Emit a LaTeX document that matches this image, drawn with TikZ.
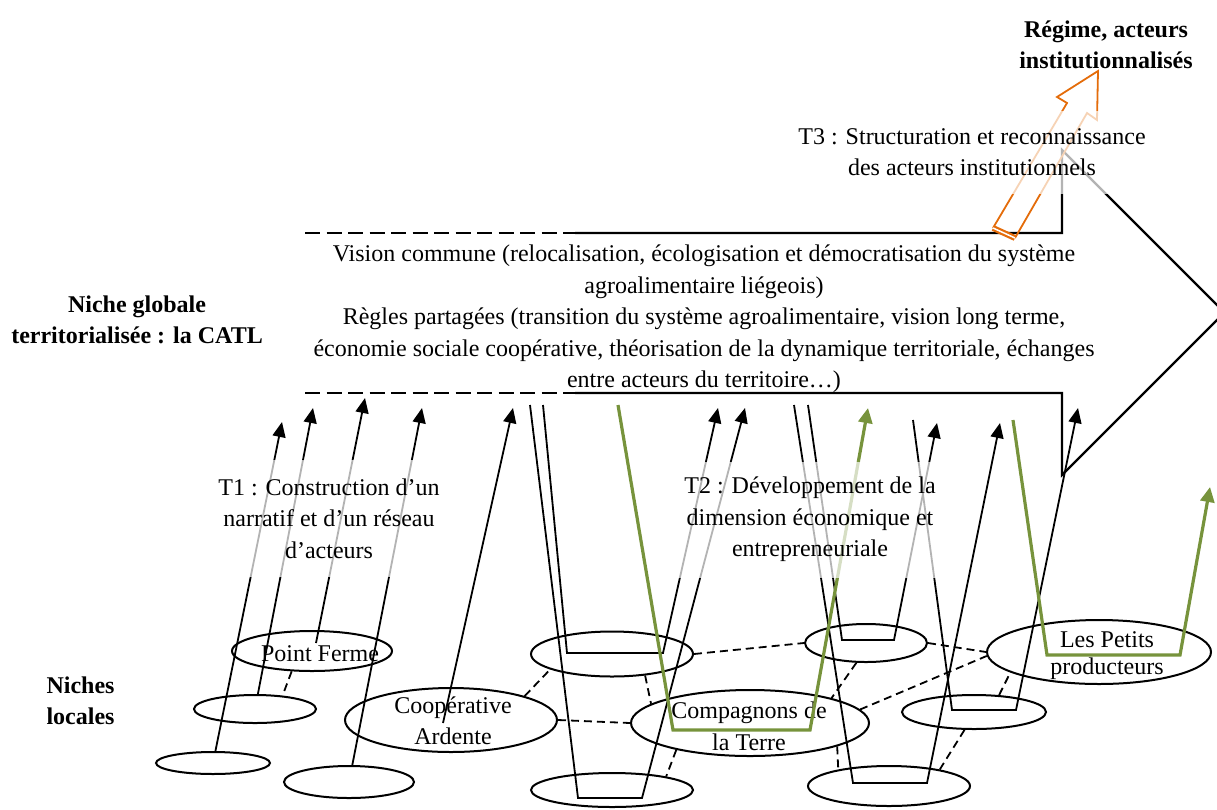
\documentclass[tikz,border=0pt]{standalone}
\usepackage{fontspec}
\setmainfont{Liberation Serif}
\usepackage{tikz}
\usetikzlibrary{arrows.meta,shapes.geometric}

\definecolor{catlvert}{RGB}{119,147,60}
\definecolor{catlorange}{RGB}{228,108,10}

\begin{document}
\begin{tikzpicture}[x=1pt, y=-1pt,
  font=\fontsize{24}{31.5}\selectfont,
  niche/.style={draw, ellipse, line width=2pt, inner sep=0pt},
  titre/.style={font=\fontsize{24}{31.5}\selectfont\bfseries, align=center},
  texte/.style={align=center, inner sep=0pt},
  voile/.style={align=center, inner sep=0pt, fill=white, fill opacity=0.7, text opacity=1},
  lien/.style={line width=1.8pt, dash pattern=on 8pt off 5pt},
  fleche/.style={line width=1.8pt, -{Triangle[length=15pt,width=13pt]}},
  verte/.style={line width=3.2pt, draw=catlvert, -{Triangle[length=15pt,width=14pt]}},
  cadre/.style={line width=2.2pt},
  tiret/.style={line width=2.2pt, dash pattern=on 15pt off 6.5pt}]

\useasboundingbox (0,0) rectangle (1217,809);

% Global niche outline
\coordinate (g1) at (305,233);
\coordinate (g2) at (575,233);
\coordinate (g3) at (1062,233);
\coordinate (g4) at (1062,150);
\coordinate (g5) at (1224.5,312.5);
\coordinate (g6) at (1062,475);
\coordinate (g7) at (1062,393);
\coordinate (g8) at (575,393);
\coordinate (g9) at (305,393);

\draw[tiret] (g1) -- (g2);
\draw[cadre] (g2) -- (g3) -- (g4) -- (g5) -- (g6) -- (g7) -- (g8);
\draw[tiret] (g9) -- (g8);

% Local niches
\node[niche, minimum width=114pt, minimum height=22pt] (l1)  at (213,763) {};
\node[niche, minimum width=122pt, minimum height=28pt] (l2)  at (255,709) {};
\node[niche, minimum width=160pt, minimum height=40pt] (l3)  at (312,651) {};
\node[niche, minimum width=130pt, minimum height=32pt] (l4)  at (349,782) {};
\node[niche, minimum width=212pt, minimum height=64pt] (l5)  at (451,720) {};
\node[niche, minimum width=162pt, minimum height=45pt] (l6)  at (612,654) {};
\node[niche, minimum width=162pt, minimum height=34pt] (l7)  at (612,790) {};
\node[niche, minimum width=238pt, minimum height=66pt] (l8)  at (750,723) {};
\node[niche, minimum width=122pt, minimum height=38pt] (l9)  at (866,643) {};
\node[niche, minimum width=162pt, minimum height=40pt] (l10) at (889,786) {};
\node[niche, minimum width=144pt, minimum height=34pt] (l11) at (974,712) {};
\node[niche, minimum width=224pt, minimum height=64pt] (l12) at (1099,652) {};

% Niche labels
\node[texte] (pf)   at (320,654)   {Point Ferme};
\node[texte] (coop) at (453,721)   {Coopérative\\Ardente};
\node[texte] (comp) at (749,726.5) {Compagnons de\\la Terre};
\node[texte] (lpp)  at (1107,655.5) {Les Petits\\[-4.5pt]producteurs};

% Links between local niches
\draw[lien] (l3.225) -- (l2.26);
\draw[lien] (l5.18) -- (l6.194);
\draw[lien] (l5.east) -- (l8.west);
\draw[lien] (l6.327) -- (l8.169);
\draw[lien] (l8.200) -- (l7.14);
\draw[lien] (l6.east) -- (l9.west);
\draw[lien] (l9.east) -- (l12.west);
\draw[lien] (l9.244) -- (l8.17);
\draw[lien] (l8.7) -- (l12.182);
\draw[lien] (l11.34) -- (l12.193);
\draw[lien] (l8.345) -- (l10.162);
\draw[lien] (l11.242) -- (l10.18);

% Upward arrows (T1)
\coordinate (s3) at (316,643);
\coordinate (s5) at (443,723);
\coordinate (v1) at (282,422);
\coordinate (v2) at (313,408);
\coordinate (v3) at (365,398);
\coordinate (v4) at (422,408);
\coordinate (v5) at (513,408);

\draw[fleche] (l1) -- (v1);
\draw[fleche] (l2) -- (v2);
\draw[fleche] (s3) -- (v3);
\draw[fleche] (l4) -- (v4);
\draw[fleche] (s5) -- (v5);

% Loops global -> local -> global
\coordinate (u6) at (543,405);  \coordinate (c6a) at (567,653);  \coordinate (c6b) at (663,653);  \coordinate (v6) at (718,408);
\coordinate (u7) at (530,405);  \coordinate (c7a) at (578,798);  \coordinate (c7b) at (642,798);  \coordinate (v7) at (745,408);
\coordinate (u9) at (808,405);  \coordinate (c9a) at (842,640);  \coordinate (c9b) at (894,640);  \coordinate (v9) at (937,423);
\coordinate (u10) at (794,405); \coordinate (c10a) at (853,783); \coordinate (c10b) at (927,783); \coordinate (v10) at (1000,423);
\coordinate (u11) at (913,420); \coordinate (c11a) at (952,710); \coordinate (c11b) at (1016,710); \coordinate (v11) at (1078,408);

\draw[fleche] (u6) -- (c6a) -- (c6b) -- (v6);
\draw[fleche] (u7) -- (c7a) -- (c7b) -- (v7);
\draw[fleche] (u9) -- (c9a) -- (c9b) -- (v9);
\draw[fleche] (u10) -- (c10a) -- (c10b) -- (v10);
\draw[fleche] (u11) -- (c11a) -- (c11b) -- (v11);

% Green loops (T2)
\coordinate (u8) at (618,405);   \coordinate (c8a) at (673,730);   \coordinate (c8b) at (810,730);   \coordinate (v8) at (868,408);
\coordinate (u12) at (1013,420); \coordinate (c12a) at (1047,655); \coordinate (c12b) at (1180,655); \coordinate (v12) at (1210,487);

\draw[verte] (u8) -- (c8a) -- (c8b) -- (v8);
\draw[verte] (u12) -- (c12a) -- (c12b) -- (v12);

% Orange block arrow (T3)
\coordinate (o1) at (993,228);
\coordinate (o2) at (1067,103);
\coordinate (o3) at (1057,97);
\coordinate (o4) at (1098,71);
\coordinate (o5) at (1097,120);
\coordinate (o6) at (1087,113);
\coordinate (o7) at (1015,238);

\draw[catlorange, line width=1.8pt, line join=miter] (o7) -- (o6) -- (o5) -- (o4) -- (o3) -- (o2) -- (o1);
\draw[catlorange, line width=2.2pt, double=white, double distance=1.5pt] (o1) -- (o7);

% Transition labels
\node[voile, minimum width=234pt, minimum height=117pt] (t1) at (329,518.5)
  {T1 : Construction d’un\\narratif et d’un réseau\\d’acteurs};
\node[voile, minimum width=280pt, minimum height=116pt] (t2) at (810,519.5)
  {T2 : Développement de la\\dimension économique et\\entrepreneuriale};
\node[voile, minimum width=355pt, minimum height=83pt] (t3) at (972,152)
  {T3 : Structuration et reconnaissance\\des acteurs institutionnels};

% Global niche content
\node[texte] (vision) at (704,319)
  {Vision commune (relocalisation, écologisation et démocratisation du système\\agroalimentaire liégeois)\\Règles partagées (transition du système agroalimentaire, vision long terme,\\économie sociale coopérative, théorisation de la dynamique territoriale, échanges\\entre acteurs du territoire…)};

% Level labels
\node[titre] (regime) at (1106,45)  {Régime, acteurs\\institutionnalisés};
\node[titre] (global) at (137,320)  {Niche globale\\territorialisée : la CATL};
\node[titre] (locale) at (80.5,701) {Niches\\locales};

\end{tikzpicture}
\end{document}
